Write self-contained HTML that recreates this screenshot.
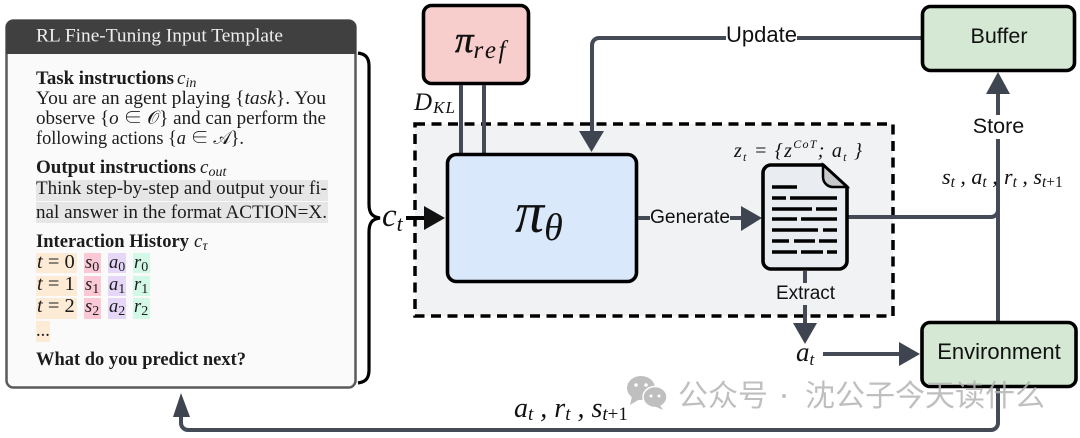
<!DOCTYPE html>
<html><head><meta charset="utf-8"><style>
html,body{margin:0;padding:0;background:#fff;width:1080px;height:438px;overflow:hidden}
svg{display:block}
.s{font-family:"Liberation Serif","Noto Serif CJK SC",serif;font-size:18.5px;fill:#1c1c1c}
.b{font-weight:bold}
.i{font-style:italic}
.a{font-family:"Liberation Sans",sans-serif;font-size:21.5px;fill:#111;text-anchor:middle}
.m{font-family:"Liberation Serif",serif;font-style:italic;fill:#111}
.l{stroke:#444b57;stroke-width:4;fill:none}
.h{fill:#3f4550}
.box{stroke:#000;stroke-width:3.6}
.d{stroke:#000;stroke-width:3.4;fill:none}
</style></head><body>
<svg width="1080" height="438" viewBox="0 0 1080 438" xmlns="http://www.w3.org/2000/svg">
<!-- card -->
<rect x="6.5" y="20.5" width="349" height="367" rx="7" fill="#fafafa" stroke="#5a5a5a" stroke-width="2.5"/>
<path d="M6 54V27a7 7 0 0 1 7-7H349a7 7 0 0 1 7 7V54Z" fill="#404040"/>
<text class="s" x="36" y="41.500" style="fill:#eee" textLength="247" lengthAdjust="spacingAndGlyphs">RL Fine-Tuning Input Template</text>
<rect x="36" y="180" width="292" height="21" fill="#e6e6e6"/>
<rect x="36" y="202" width="292" height="21" fill="#e6e6e6"/>
<g fill="#fdebd5"><rect x="36" y="253" width="41" height="20"/><rect x="36" y="276" width="41" height="20"/><rect x="36" y="298" width="41" height="21"/><rect x="36" y="321" width="14" height="21"/></g>
<g fill="#fbc9d6"><rect x="84" y="253" width="17" height="20"/><rect x="84" y="276" width="17" height="20"/><rect x="84" y="298" width="17" height="21"/></g>
<g fill="#e6d7f8"><rect x="108" y="253" width="18" height="20"/><rect x="108" y="276" width="18" height="20"/><rect x="108" y="298" width="18" height="21"/></g>
<g fill="#d4f8e8"><rect x="133" y="253" width="17" height="20"/><rect x="133" y="276" width="17" height="20"/><rect x="133" y="298" width="17" height="21"/></g>
<text class="s b" x="36" y="84" textLength="138" lengthAdjust="spacingAndGlyphs">Task instructions</text>
<text class="s i" x="177" y="84" style="font-size:19px">c<tspan font-size="14" dy="3">in</tspan></text>
<text class="s" x="36" y="104" textLength="290" lengthAdjust="spacingAndGlyphs">You are an agent playing {<tspan class="i">task</tspan>}. You</text>
<text class="s" x="36" y="124" textLength="290" lengthAdjust="spacingAndGlyphs">observe {<tspan class="i">o</tspan> ∈ 𝒪} and can perform the</text>
<text class="s" x="36" y="144" textLength="208" lengthAdjust="spacingAndGlyphs">following actions {<tspan class="i">a</tspan> ∈ 𝒜}.</text>
<text class="s b" x="36" y="173" textLength="160" lengthAdjust="spacingAndGlyphs">Output instructions</text>
<text class="s i" x="200" y="173" style="font-size:19px">c<tspan font-size="14" dy="3">out</tspan></text>
<text class="s" x="36" y="194" textLength="291" lengthAdjust="spacingAndGlyphs">Think step-by-step and output your fi-</text>
<text class="s" x="36" y="218" textLength="291" lengthAdjust="spacingAndGlyphs">nal answer in the format ACTION=X.</text>
<text class="s b" x="36" y="247" textLength="153" lengthAdjust="spacingAndGlyphs">Interaction History</text>
<text class="s i" x="194" y="247" style="font-size:19px">c<tspan font-size="14" dy="3">τ</tspan></text>
<g>
<text class="s" x="37" y="268" style="font-size:20.5px"><tspan class="i">t</tspan> = 0</text>
<text class="s" x="37" y="290" style="font-size:20.5px"><tspan class="i">t</tspan> = 1</text>
<text class="s" x="37" y="312" style="font-size:20.5px"><tspan class="i">t</tspan> = 2</text>
<text class="s i" x="85" y="268">s<tspan font-size="14" dy="3" font-style="normal">0</tspan></text>
<text class="s i" x="85" y="290">s<tspan font-size="14" dy="3" font-style="normal">1</tspan></text>
<text class="s i" x="85" y="312">s<tspan font-size="14" dy="3" font-style="normal">2</tspan></text>
<text class="s i" x="109" y="268">a<tspan font-size="14" dy="3" font-style="normal">0</tspan></text>
<text class="s i" x="109" y="290">a<tspan font-size="14" dy="3" font-style="normal">1</tspan></text>
<text class="s i" x="109" y="312">a<tspan font-size="14" dy="3" font-style="normal">2</tspan></text>
<text class="s i" x="134" y="268">r<tspan font-size="14" dy="3" font-style="normal">0</tspan></text>
<text class="s i" x="134" y="290">r<tspan font-size="14" dy="3" font-style="normal">1</tspan></text>
<text class="s i" x="134" y="312">r<tspan font-size="14" dy="3" font-style="normal">2</tspan></text>
<text class="s" x="36" y="336">...</text>
</g>
<text class="s b" x="36" y="365" textLength="210" lengthAdjust="spacingAndGlyphs">What do you predict next?</text>
<!-- brace -->
<path d="M358 53C365 54 369 57 369 66V204C369 213 372 217 380 218C372 219 369 223 369 232V370C369 379 365 382 358 383" fill="none" stroke="#000" stroke-width="3.2"/>
<!-- dashed region -->
<rect x="415" y="124" width="478" height="192" fill="#f1f2f4" stroke="#000" stroke-width="3.5" stroke-dasharray="10 6.5"/>
<!-- pi_ref -->
<rect x="423.5" y="5.5" width="105" height="78" rx="8" fill="#f8cecc" class="box"/>
<text class="m" x="455" y="52" font-size="37" stroke="#111" stroke-width=".5">π<tspan font-size="25" stroke-width="0" dy="6" dx="0" letter-spacing="2.500">ref</tspan></text>
<text class="m" x="414" y="110" font-size="25" textLength="41">D<tspan font-size="17" dy="3">KL</tspan></text>
<path class="l" d="M461 85V153M484 85V153"/>
<!-- update arrow -->
<path class="l" d="M921 38H599a7 7 0 0 0-7 7V133"/>
<path class="h" d="M579 131H604L591.500 152Z"/>
<rect x="726" y="24" width="71" height="24" fill="#fff"/>
<text class="a" x="761.500" y="42" style="font-size:22px">Update</text>
<!-- pi theta -->
<rect x="447.500" y="154.500" width="189" height="127" rx="9" fill="#dae8fc" class="box"/>
<text class="m" x="515" y="232" font-size="58">π<tspan font-size="38" dy="8">θ</tspan></text>
<!-- c_t -->
<text class="m" x="382" y="226" font-size="33">c<tspan font-size="22" dy="5">t</tspan></text>
<path d="M406 218H426" stroke="#000" stroke-width="4"/>
<path d="M424 206L445 218L424 230Z" fill="#111"/>
<!-- generate -->
<path class="l" d="M638 218H650M730 218H743"/>
<path class="h" d="M741 206L762 218L741 231Z"/>
<text class="a" x="690" y="223" style="font-size:19.200px">Generate</text>
<!-- doc output lines -->
<path class="l" d="M848 217H991a7 7 0 0 0 7-7"/>
<!-- doc -->
<path d="M771 165H823L847 187V261a8 8 0 0 1-8 8H771a8 8 0 0 1-8-8V173a8 8 0 0 1 8-8Z" fill="#e9edf1" stroke="#000" stroke-width="3.6"/>
<path d="M823 165L847 187H833a10 10 0 0 1-10-10Z" fill="#c6c8c9" stroke="#000" stroke-width="2.5"/>
<path class="d" d="M772 187H797M772 198H786M790 198H837M772 209H812M816 209H837M772 219H797M801 219H837M772 230H818M823 230H837M772 241H789M794 241H815M819 241H837M772 252H797M801 252H823M827 252H837"/>
<text class="m" x="734" y="157" font-size="20" textLength="128">z<tspan font-size="12" dy="4">t</tspan><tspan dy="-4"> = {z</tspan><tspan font-size="12" dy="-9">CoT</tspan><tspan dy="9">; a</tspan><tspan font-size="12" dy="4">t</tspan><tspan dy="-4"> }</tspan></text>
<!-- extract -->
<path class="l" d="M805 271V283M805 305V325"/>
<path class="h" d="M793 323H817L805 344Z"/>
<text class="a" x="805.500" y="299" style="font-size:19px">Extract</text>
<text class="m" x="796" y="361" font-size="27">a<tspan font-size="17" dy="4">t</tspan></text>
<path class="l" d="M823 354H901"/>
<path class="h" d="M899 342L920 354L899 366Z"/>
<!-- environment -->
<path class="l" d="M998 322V92"/>
<path class="h" d="M986 94H1010L998 72Z"/>
<rect x="970" y="115" width="56" height="24" fill="#fff"/>
<text class="a" x="998.500" y="133">Store</text>
<text class="m" x="942" y="184" font-size="22">s<tspan font-size="15.500" dy="3">t</tspan><tspan dy="-3"> , a</tspan><tspan font-size="15.500" dy="3">t</tspan><tspan dy="-3"> , </tspan><tspan x="1004">r</tspan><tspan font-size="15.500" dy="3">t</tspan><tspan dy="-3"> , s</tspan><tspan font-size="15.500" dy="3"><tspan>t</tspan><tspan font-style="normal">+1</tspan></tspan></text>
<path class="l" d="M998 386V423a7 7 0 0 1-7 7H188a7 7 0 0 1-7-7V415"/>
<path class="h" d="M173 417H190L181 393Z"/>
<rect x="922.500" y="6.500" width="152" height="64" rx="8" fill="#d5e8d4" stroke="#000" stroke-width="3.6"/>
<text class="a" x="999" y="43">Buffer</text>
<rect x="922" y="322.500" width="154" height="64" rx="8" fill="#d5e8d4" stroke="#000" stroke-width="3.6"/>
<text class="a" x="999" y="359" style="font-size:22px">Environment</text>
<text class="m" x="514" y="417" font-size="28">a<tspan font-size="19" dy="3">t</tspan><tspan dy="-3"> , r</tspan><tspan font-size="19" dy="3">t</tspan><tspan dy="-3"> , s</tspan><tspan font-size="19" dy="3"><tspan>t</tspan><tspan font-style="normal">+1</tspan></tspan></text>
<!-- watermark -->
<g opacity=".85">
<ellipse cx="641" cy="388" rx="14" ry="12" fill="#b4b4b4"/><path d="M632 396L630 405L640 399Z" fill="#b4b4b4"/>
<ellipse cx="655" cy="397" rx="12" ry="10.500" fill="#b4b4b4" stroke="#fff" stroke-width="1.500"/><path d="M660 405L663 410L654 406Z" fill="#b4b4b4"/>
<circle cx="636" cy="385" r="1.800" fill="#fff"/><circle cx="646" cy="385" r="1.800" fill="#fff"/><circle cx="651" cy="396" r="1.500" fill="#fff"/><circle cx="659" cy="396" r="1.500" fill="#fff"/>
<g font-family="'Noto Sans CJK SC',sans-serif" font-size="30" fill="#b4b4b4">
<text x="678" y="406">公众号</text>
<circle cx="784" cy="396" r="2" fill="#b4b4b4"/>
<text x="805" y="406">沈公子今天读什么</text>
</g>
</g>
</svg>
</body></html>
